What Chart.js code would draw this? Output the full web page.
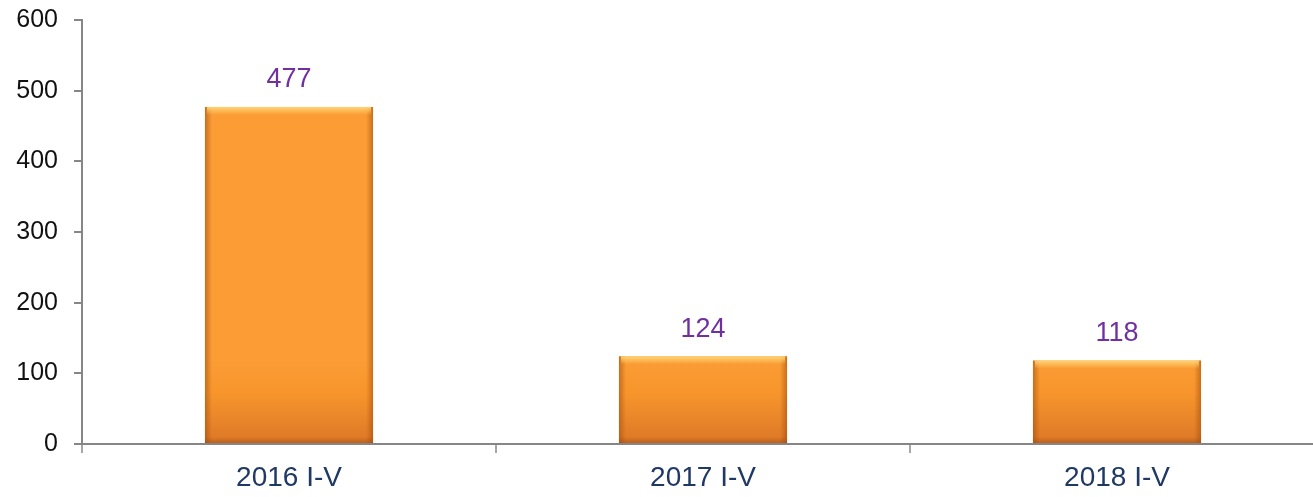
<!DOCTYPE html>
<html>
<head>
<meta charset="utf-8">
<script src="https://cdn.jsdelivr.net/npm/chart.js@4/dist/chart.umd.min.js"></script>
<style>
  body { margin: 0; background: #fff; overflow: hidden; }
  #box { width: 1324px; height: 497px; }
</style>
</head>
<body>
<div id="box"><canvas id="grafico1"></canvas></div>
<script>
var categorias = ["2016 I-V", "2017 I-V", "2018 I-V"];
var valores = [477, 124, 118];
var ticksY = [0, 100, 200, 300, 400, 500, 600];

// gradient per bar, built from the bar's own geometry
var pluginBarras = {
  id: "barras",
  beforeDatasetsDraw: function (chart) {
    var ctx = chart.ctx;
    var meta = chart.getDatasetMeta(0);
    meta.data.forEach(function (bar) {
      var g = ctx.createLinearGradient(0, bar.y, 0, bar.base);
      g.addColorStop(0, "#fb9c34");
      g.addColorStop(0.4, "#f7952c");
      g.addColorStop(1, "#dc7727");
      bar.options.backgroundColor = g;
    });
  },
  afterDatasetsDraw: function (chart) {
    var ctx = chart.ctx;
    var meta = chart.getDatasetMeta(0);
    meta.data.forEach(function (bar, i) {
      var esq = bar.x - bar.width / 2;
      var dir = bar.x + bar.width / 2;
      var topo = bar.y;
      var base = bar.base;
      ctx.save();
      // left / right edge shade
      var gl = ctx.createLinearGradient(esq, 0, esq + 7, 0);
      gl.addColorStop(0, "rgba(160,75,10,0.55)");
      gl.addColorStop(1, "rgba(160,75,10,0)");
      ctx.fillStyle = gl;
      ctx.fillRect(esq, topo, 7, base - topo);
      var gr = ctx.createLinearGradient(dir, 0, dir - 7, 0);
      gr.addColorStop(0, "rgba(160,75,10,0.55)");
      gr.addColorStop(1, "rgba(160,75,10,0)");
      ctx.fillStyle = gr;
      ctx.fillRect(dir - 7, topo, 7, base - topo);
      // top highlight
      var gt = ctx.createLinearGradient(0, topo, 0, topo + 8);
      gt.addColorStop(0, "rgba(255,215,120,0.95)");
      gt.addColorStop(1, "rgba(255,215,120,0)");
      ctx.fillStyle = gt;
      ctx.fillRect(esq + 2, topo, bar.width - 4, 8);
      // bottom shade
      var gb = ctx.createLinearGradient(0, base, 0, base - 6);
      gb.addColorStop(0, "rgba(140,65,10,0.4)");
      gb.addColorStop(1, "rgba(140,65,10,0)");
      ctx.fillStyle = gb;
      ctx.fillRect(esq, base - 6, bar.width, 6);
      // value label
      ctx.fillStyle = "#7030a0";
      ctx.font = "27px 'Liberation Sans', Arial, sans-serif";
      ctx.textAlign = "center";
      ctx.textBaseline = "middle";
      ctx.fillText(String(valores[i]), bar.x, topo - 27);
      ctx.restore();
    });
  },
};

var dados = {
  labels: categorias,
  datasets: [
    {
      label: "valor",
      data: valores,
      backgroundColor: "#f7962e",
      borderWidth: 0,
      categoryPercentage: 1,
      barPercentage: 0.406,
    },
  ],
};

var config = {
  type: "bar",
  data: dados,
  options: {
    responsive: true,
    maintainAspectRatio: false,
    animation: false,
    layout: { padding: { top: 20, right: 0, left: 0, bottom: 0 } },
    plugins: {
      legend: { display: false },
      tooltip: { enabled: false },
    },
    scales: {
      x: {
        grid: {
          offset: true,
          drawOnChartArea: false,
          drawTicks: true,
          tickLength: 9,
          color: "#a6a6a6",
          lineWidth: 2,
        },
        border: { color: "#868686", width: 2 },
        ticks: {
          color: "#1f3864",
          padding: 8,
          font: { family: "'Liberation Sans', Arial, sans-serif", size: 28 },
        },
        afterFit: function (scale) {
          scale.height = 53;
        },
      },
      y: {
        min: 0,
        max: 600,
        afterBuildTicks: function (scale) {
          scale.ticks = ticksY.map(function (v) {
            return { value: v };
          });
        },
        grid: {
          drawOnChartArea: false,
          drawTicks: true,
          tickLength: 8,
          color: "#868686",
          lineWidth: 2,
        },
        border: { color: "#868686", width: 2 },
        ticks: {
          color: "#111",
          padding: 16,
          font: { family: "'Liberation Sans', Arial, sans-serif", size: 25 },
        },
        afterFit: function (scale) {
          scale.width = 82;
          scale.paddingTop = 0;
          scale.paddingBottom = 0;
        },
      },
    },
  },
  plugins: [pluginBarras],
};

var meuGrafico = new Chart(document.getElementById("grafico1"), config);
</script>
</body>
</html>
